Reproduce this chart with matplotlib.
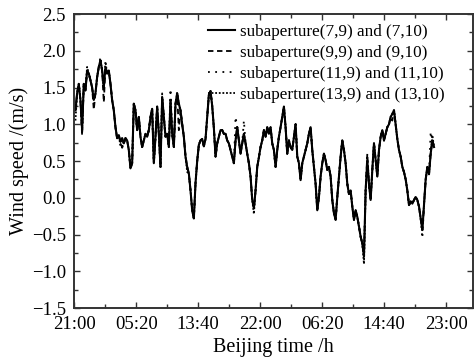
import numpy as np
import matplotlib
matplotlib.use("Agg")
import matplotlib.pyplot as plt
from matplotlib.ticker import MultipleLocator

plt.rcParams['font.family'] = ['Liberation Serif', 'DejaVu Serif']

speed_a = [1.19, 1.42, 1.55, 1.33, 0.92, 1.55, 1.46, 1.73, 1.69, 1.60,
           1.50, 1.33, 1.42, 1.64, 1.78, 1.87, 1.73, 1.50, 1.78, 1.69,
           1.73, 1.55, 1.33, 1.19, 0.96, 0.81, 0.85, 0.76, 0.81, 0.74,
           0.81, 0.78, 0.65, 0.40, 0.47, 1.28, 1.19, 0.92, 1.10, 0.83,
           0.69, 0.78, 0.87, 0.83, 0.92, 1.10, 1.21, 0.47, 0.83, 1.24,
           0.87, 0.42, 1.37, 1.10, 0.83, 0.87, 0.69, 1.33, 0.87, 0.69,
           1.28, 1.42, 1.28, 1.19, 1.00, 0.83, 0.56, 0.42, 0.33, 0.10,
           -0.17, -0.28, 0.20, 0.50, 0.72, 0.78, 0.80, 0.70, 0.80, 1.10,
           1.40, 1.45, 1.25, 0.95, 0.56, 0.74, 0.83, 0.92, 0.92, 0.87,
           0.87, 0.78, 0.74, 0.65, 0.56, 0.47, 0.78, 0.96, 0.78, 0.60,
           0.74, 0.87, 0.74, 0.60, 0.47, 0.29, -0.03, -0.14]
speed_b = [0.10, 0.42, 0.55, 0.69, 0.78, 0.92, 0.83, 0.96, 0.87, 0.96,
           0.74, 0.65, 0.42, 0.65, 0.83, 0.96, 1.10, 1.24, 0.96, 0.60,
           0.78, 0.69, 0.65, 0.83, 1.00, 0.56, 0.47, 0.24, 0.47, 0.56,
           0.65, 0.74, 0.87, 0.96, 0.65, 0.42, 0.19, -0.17, 0.01, 0.29,
           0.47, 0.60, 0.51, 0.38, 0.42, 0.29, -0.03, -0.21, -0.30, 0.01,
           0.29, 0.56, 0.78, 0.65, 0.47, 0.19, 0.05, 0.10, -0.12, -0.30,
           -0.17, -0.26, -0.39, -0.53, -0.62, -0.80, 0.10, 0.51, 0.19, -0.03,
           0.38, 0.74, 0.51, 0.29, 0.65, 0.83, 0.92, 0.78, 0.87, 0.96,
           1.00, 1.10, 1.14, 1.19, 1.00, 0.80, 0.65, 0.56, 0.42, 0.35,
           0.25, 0.10, -0.10, -0.05, -0.08, -0.03, 0.01, -0.03, -0.12, -0.28,
           -0.44, -0.10, 0.25, 0.42, 0.32, 0.60, 0.78, 0.69]
sub_79 = speed_a + speed_b

# points where the other subaperture pairs stand off the solid curve
idx_99 = [4, 11, 17, 28, 175, 62, 190]
val_99 = [0.85, 1.20, 1.30, 0.68, 0.60, 0.92, 1.05]
idx_119 = [15, 52, 57, 61, 96, 101, 208, 213]
val_119 = [1.92, 1.42, 1.48, 1.45, 1.10, 1.05, -0.55, 0.90]
idx_139 = [7, 18, 27, 67, 107, 173, 214, 0]
val_139 = [1.78, 1.85, 0.70, 0.35, -0.22, -0.90, 0.85, 1.05]

start_h, end_h = 0.18, 48.35
tick_labels = ['21:00', '05:20', '13:40', '22:00', '06:20', '14:40', '23:00']
labels = ['subaperture(7,9) and (7,10)', 'subaperture(9,9) and (9,10)',
          'subaperture(11,9) and (11,10)', 'subaperture(13,9) and (13,10)']

s1 = np.array(sub_79)
s2 = s1.copy(); s2[idx_99] = val_99
s3 = s1.copy(); s3[idx_119] = val_119
s4 = s1.copy(); s4[idx_139] = val_139
t = np.linspace(start_h, end_h, len(s1))

fig = plt.figure(figsize=(4.75, 3.59), dpi=100)
ax = fig.add_axes([0.156, 0.142, 0.84, 0.819])

ax.plot(t, s4, color='black', lw=1.3, linestyle=(0, (1, 1)), label=labels[3])
ax.plot(t, s3, color='black', lw=1.3, linestyle=(0, (1, 3)), label=labels[2])
ax.plot(t, s2, color='black', lw=1.3, linestyle=(0, (3, 2)), label=labels[1])
ax.plot(t, s1, color='black', lw=1.5, linestyle='-', label=labels[0])

ax.set_xlim(0, 53.6)
ax.set_ylim(-1.5, 2.5)
ax.set_xticks(np.arange(len(tick_labels)) * 25 / 3)
ax.set_xticklabels(tick_labels)
ax.xaxis.set_minor_locator(MultipleLocator(25 / 6))
ax.yaxis.set_major_locator(MultipleLocator(0.5))
ax.yaxis.set_minor_locator(MultipleLocator(0.25))
ax.yaxis.set_major_formatter(matplotlib.ticker.FuncFormatter(
    lambda v, p: ('%.1f' % v).replace('-', '\u2212')))
ax.tick_params(which='both', direction='in', top=True, right=True,
               labelsize=13.5, color='#333333')
ax.tick_params(axis='x', pad=6)
ax.tick_params(axis='y', pad=6)
ax.tick_params(which='major', length=4, width=1)
ax.tick_params(which='minor', length=3, width=1)
for sp in ax.spines.values():
    sp.set_linewidth(1.4)
    sp.set_color('#333333')

ax.set_xlabel('Beijing time /h', fontsize=14.5, labelpad=3)
ax.set_ylabel('Wind speed /(m/s)', fontsize=14.5, labelpad=2)

h, l = ax.get_legend_handles_labels()
ax.legend(h[::-1], l[::-1], loc='upper right', frameon=False, fontsize=12.3,
          handlelength=1.6, handletextpad=0.3, labelspacing=0.28,
          borderaxespad=0.2, bbox_to_anchor=(0.955, 1.0))

fig.savefig('out.png', dpi=100)
